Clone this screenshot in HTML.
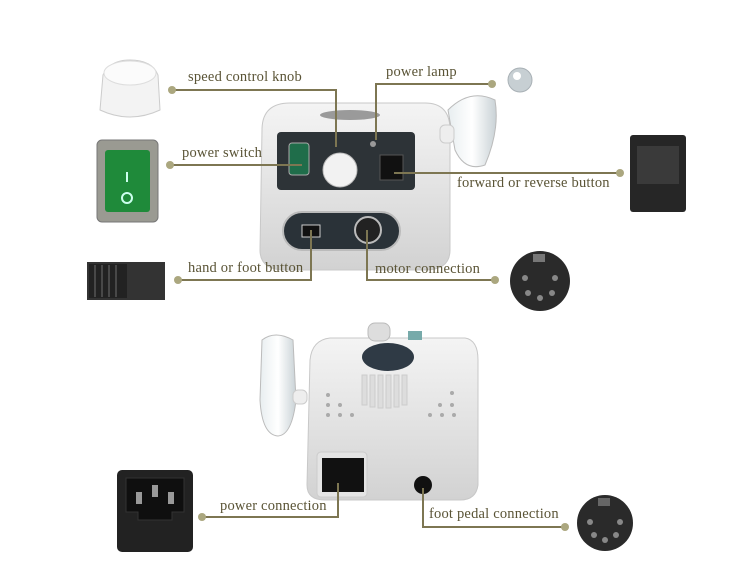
<!DOCTYPE html>
<html><head><meta charset="utf-8"><style>
body{margin:0;width:750px;height:580px;background:#fff;overflow:hidden;position:relative;font-family:"Liberation Serif",serif}
.t{position:absolute;font-size:14.5px;color:#5a5436;white-space:nowrap;letter-spacing:0.2px}
svg{position:absolute;left:0;top:0}
</style></head><body>
<svg width="750" height="580" viewBox="0 0 750 580">
<defs>
<linearGradient id="wb" x1="0" y1="0" x2="0" y2="1"><stop offset="0" stop-color="#f4f4f4"/><stop offset="1" stop-color="#d2d2d2"/></linearGradient>
<linearGradient id="gl" x1="0" y1="0" x2="1" y2="0"><stop offset="0" stop-color="#e8eef0"/><stop offset=".5" stop-color="#fff"/><stop offset="1" stop-color="#c9d2d6"/></linearGradient>
</defs>
<path d="M262 130 Q262 103 290 103 L425 103 Q450 103 450 130 L450 250 Q450 270 425 270 L285 270 Q260 270 260 250 Z" fill="url(#wb)" stroke="#c8c8c8"/>
<ellipse cx="350" cy="115" rx="30" ry="5" fill="#9a9a9a"/>
<rect x="277" y="132" width="138" height="58" rx="4" fill="#2d3337"/>
<rect x="289" y="143" width="20" height="32" rx="3" fill="#1f6d4a" stroke="#aaa"/>
<circle cx="340" cy="170" r="17" fill="#f2f2f2" stroke="#bbb"/>
<rect x="380" y="155" width="23" height="25" fill="#111" stroke="#555"/>
<circle cx="373" cy="144" r="3" fill="#999"/>
<rect x="283" y="212" width="117" height="38" rx="19" fill="#2a3238" stroke="#bbb" stroke-width="2"/>
<rect x="302" y="225" width="18" height="12" fill="#111" stroke="#ccc"/>
<circle cx="368" cy="230" r="13" fill="#222" stroke="#bbb" stroke-width="2"/>
<path d="M448 110 Q470 88 495 100 Q500 130 485 165 Q465 172 455 150 Z" fill="url(#gl)" stroke="#bbb"/>
<rect x="440" y="125" width="14" height="18" rx="5" fill="#eee" stroke="#ccc"/>
<path d="M103 75 Q110 60 130 60 Q152 60 158 75 L160 110 Q130 124 100 110 Z" fill="#f3f3f3" stroke="#ccc"/>
<ellipse cx="130" cy="73" rx="26" ry="12" fill="#fbfbfb" stroke="#ddd"/>
<circle cx="520" cy="80" r="12" fill="#c7cfd3" stroke="#a8b0b5"/><circle cx="517" cy="76" r="4" fill="#fff"/>
<rect x="97" y="140" width="61" height="82" rx="5" fill="#9a9a92" stroke="#777"/>
<rect x="105" y="150" width="45" height="62" rx="3" fill="#1f8a3a"/>
<line x1="127" y1="172" x2="127" y2="182" stroke="#cfe" stroke-width="2"/><circle cx="127" cy="198" r="5" fill="none" stroke="#cfe" stroke-width="2"/>
<rect x="630" y="135" width="56" height="77" rx="3" fill="#262626"/><rect x="637" y="146" width="42" height="38" fill="#3a3a3a"/>
<rect x="87" y="262" width="78" height="38" fill="#333"/><rect x="89" y="264" width="38" height="34" fill="#222"/>
<g stroke="#555" stroke-width="1.5"><line x1="95" y1="265" x2="95" y2="297"/><line x1="102" y1="265" x2="102" y2="297"/><line x1="109" y1="265" x2="109" y2="297"/><line x1="116" y1="265" x2="116" y2="297"/></g>
<circle cx="540" cy="281" r="30" fill="#2a2a2a"/><rect x="533" y="254" width="12" height="8" fill="#777"/>
<g fill="#888"><circle cx="525" cy="278" r="3"/><circle cx="555" cy="278" r="3"/><circle cx="528" cy="293" r="3"/><circle cx="552" cy="293" r="3"/><circle cx="540" cy="298" r="3"/></g>
<path d="M310 360 Q312 340 330 338 L465 338 Q478 340 478 360 L478 485 Q476 500 460 500 L325 500 Q307 500 307 485 Z" fill="url(#wb)" stroke="#c8c8c8"/>
<rect x="368" y="323" width="22" height="18" rx="7" fill="#ddd" stroke="#bbb"/>
<rect x="408" y="331" width="14" height="9" fill="#7aa"/>
<ellipse cx="388" cy="357" rx="26" ry="14" fill="#2f3a45"/>
<g fill="#ddd" stroke="#ccc"><rect x="362" y="375" width="5" height="30"/><rect x="370" y="375" width="5" height="32"/><rect x="378" y="375" width="5" height="33"/><rect x="386" y="375" width="5" height="33"/><rect x="394" y="375" width="5" height="32"/><rect x="402" y="375" width="5" height="30"/></g>
<g fill="#aaa"><circle cx="328" cy="395" r="2"/><circle cx="328" cy="405" r="2"/><circle cx="340" cy="405" r="2"/><circle cx="328" cy="415" r="2"/><circle cx="340" cy="415" r="2"/><circle cx="352" cy="415" r="2"/><circle cx="452" cy="393" r="2"/><circle cx="440" cy="405" r="2"/><circle cx="452" cy="405" r="2"/><circle cx="430" cy="415" r="2"/><circle cx="442" cy="415" r="2"/><circle cx="454" cy="415" r="2"/></g>
<rect x="317" y="452" width="50" height="45" rx="4" fill="#e4e4e4" stroke="#ccc"/>
<rect x="322" y="458" width="42" height="34" fill="#111"/>
<circle cx="423" cy="485" r="9" fill="#111"/>
<path d="M262 340 Q275 330 293 340 L296 400 Q292 435 278 436 Q262 435 260 400 Z" fill="url(#gl)" stroke="#bbb"/>
<rect x="293" y="390" width="14" height="14" rx="5" fill="#eee" stroke="#ccc"/>
<rect x="117" y="470" width="76" height="82" rx="5" fill="#222"/>
<path d="M126 478 L184 478 L184 512 L172 512 L172 520 L138 520 L138 512 L126 512 Z" fill="#0f0f0f" stroke="#333"/>
<rect x="136" y="492" width="6" height="12" fill="#999"/><rect x="152" y="485" width="6" height="12" fill="#999"/><rect x="168" y="492" width="6" height="12" fill="#999"/>
<circle cx="605" cy="523" r="28" fill="#2a2a2a"/><rect x="598" y="498" width="12" height="8" fill="#666"/>
<g fill="#888"><circle cx="590" cy="522" r="3"/><circle cx="620" cy="522" r="3"/><circle cx="594" cy="535" r="3"/><circle cx="616" cy="535" r="3"/><circle cx="605" cy="540" r="3"/></g>
<g stroke="#7d7652" stroke-width="2" fill="none">
<polyline points="172,90 336,90 336,147"/>
<polyline points="492,84 376,84 376,140"/>
<polyline points="170,165 302,165"/>
<polyline points="620,173 394,173"/>
<polyline points="178,280 311,280 311,230"/>
<polyline points="367,230 367,280 495,280"/>
<polyline points="202,517 338,517 338,483"/>
<polyline points="423,488 423,527 565,527"/>
</g>
<g fill="#aba77f"><circle cx="172" cy="90" r="4"/><circle cx="492" cy="84" r="4"/><circle cx="170" cy="165" r="4"/><circle cx="620" cy="173" r="4"/><circle cx="178" cy="280" r="4"/><circle cx="495" cy="280" r="4"/><circle cx="202" cy="517" r="4"/><circle cx="565" cy="527" r="4"/></g>
</svg>
<div class="t" style="left:188px;top:69px">speed control knob</div>
<div class="t" style="left:386px;top:64px">power lamp</div>
<div class="t" style="left:182px;top:145px">power switch</div>
<div class="t" style="left:457px;top:175px">forward or reverse button</div>
<div class="t" style="left:188px;top:260px">hand or foot button</div>
<div class="t" style="left:375px;top:261px">motor connection</div>
<div class="t" style="left:220px;top:498px">power connection</div>
<div class="t" style="left:429px;top:506px">foot pedal connection</div>
</body></html>
